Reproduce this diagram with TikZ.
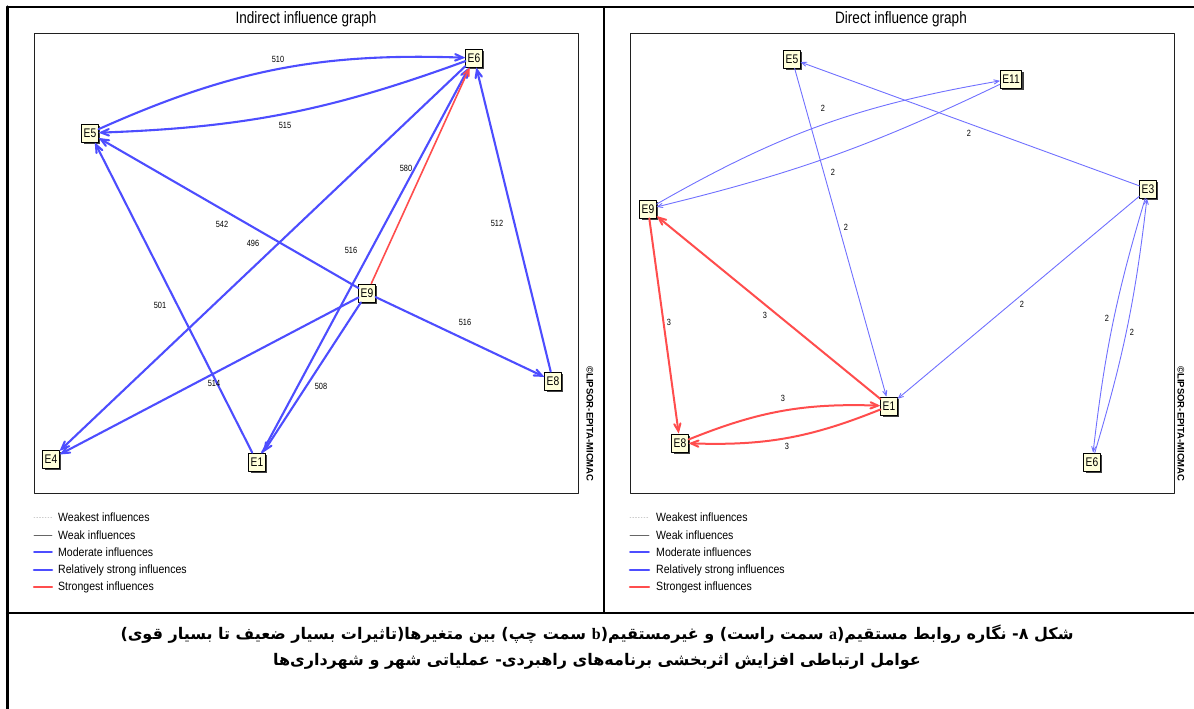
\documentclass[tikz,border=0pt]{standalone}
\usepackage{fontspec}
\setmainfont{Liberation Sans}
\newfontfamily\micfont[FakeStretch=0.82]{Liberation Sans}
\newfontfamily\legfont[FakeStretch=0.88]{Liberation Sans}
\newfontfamily\latinserif{Liberation Serif}
\newfontfamily\farsifont[Script=Arabic]{DejaVu Sans}
\TeXXeTstate=1
\usepackage{pgf,tikz}
\usetikzlibrary{arrows,shadows}
\definecolor{ududff}{rgb}{0.30196078431372547,0.30196078431372547,1.}
\definecolor{xdxdff}{rgb}{0.4392156862745098,0.4392156862745098,1.}
\definecolor{ffududd}{rgb}{1.,0.30196078431372547,0.30196078431372547}
\definecolor{ffffdb}{rgb}{1.,1.,0.8588235294117647}
\definecolor{sqsqsq}{rgb}{0.12549019607843137,0.12549019607843137,0.12549019607843137}
\definecolor{cccccc}{rgb}{0.8,0.8,0.8}
\definecolor{wvwvwv}{rgb}{0.4,0.4,0.4}

\begin{document}
\begin{tikzpicture}[line cap=round,line join=round,>=angle 45,x=1pt,y=1pt,
  var/.style={draw=black,line width=0.8pt,fill=ffffdb,inner sep=1.9pt,minimum height=18pt,
    font=\micfont\fontsize{12.5}{12.5}\selectfont,
    drop shadow={shadow xshift=2pt,shadow yshift=-2pt,fill=sqsqsq,opacity=0.85}},
  lab/.style={font=\micfont\fontsize{9}{9}\selectfont,inner sep=0pt},
  strong/.style={->,color=ududff,line width=2.1pt},
  moderate/.style={->,color=xdxdff,line width=0.9pt},
  strongest/.style={->,color=ffududd,line width=2pt},
  legtext/.style={anchor=west,font=\legfont\fontsize{12}{12}\selectfont,inner sep=0pt},
  title/.style={font=\micfont\fontsize{16.5}{16.5}\selectfont,inner sep=0pt},
  brand/.style={rotate=-90,font=\bfseries\fontsize{9.5}{9.5}\selectfont,inner sep=0pt}]
\useasboundingbox (0,0) rectangle (1194,709);
% frame
\draw [line width=1.5pt] (7,702)-- (1194,702);
\draw [line width=3pt] (7,702)-- (7,0);
\draw [line width=1.5pt] (604,702)-- (604,96);
\draw [line width=2.5pt] (7,96)-- (1194,96);
\draw [color=sqsqsq,line width=1pt] (34,675) rectangle (578,215);
\draw [color=sqsqsq,line width=1pt] (630,675) rectangle (1174,215);
\node[title] (ititle) at (306,690) {Indirect influence graph};
\node[title] (dtitle) at (901,690) {Direct influence graph};
\node[brand] (ibrand) at (590,285) {©LIPSOR-EPITA-MICMAC};
\node[brand] (dbrand) at (1181,285) {©LIPSOR-EPITA-MICMAC};
% indirect graph
\node[var] (iE6) at (474,651) {E6};
\node[var] (iE5) at (90,576) {E5};
\node[var] (iE9) at (367,416) {E9};
\node[var] (iE8) at (553,328) {E8};
\node[var] (iE4) at (51,250) {E4};
\node[var] (iE1) at (257,247) {E1};
\draw [strong] (iE5) to[bend left=13] (iE6);
\draw [strong] (iE6) to[bend left=9] (iE5);
\draw [strong] (iE1)-- (iE5);
\draw [strong] (iE9)-- (iE5);
\draw [strong] (iE6)-- (iE4);
\draw [strong] (iE9)-- (iE4);
\draw [strong] (iE1)-- (iE6);
\draw [strong] (iE9)-- (iE1);
\draw [strong] (iE8)-- (iE6);
\draw [strong] (iE9)-- (iE8);
\draw [strongest,line width=1.6pt] (iE9)-- (iE6);
\node[lab] at (278,650) {510};
\node[lab] at (285,584) {515};
\node[lab] at (406,541) {580};
\node[lab] at (222,485) {542};
\node[lab] at (253,466) {496};
\node[lab] at (351,459) {516};
\node[lab] at (497,486) {512};
\node[lab] at (160,404) {501};
\node[lab] at (465,387) {516};
\node[lab] at (214,326) {514};
\node[lab] at (321,323) {508};
% direct graph
\node[var] (dE5) at (792,650) {E5};
\node[var] (dE11) at (1011,630) {E11};
\node[var] (dE3) at (1148,520) {E3};
\node[var] (dE9) at (648,500) {E9};
\node[var] (dE1) at (889,303) {E1};
\node[var] (dE8) at (680,266) {E8};
\node[var] (dE6) at (1092,247) {E6};
\draw [moderate] (dE3)-- (dE5);
\draw [moderate] (dE5)-- (dE1);
\draw [moderate] (dE9) to[bend left=10] (dE11);
\draw [moderate] (dE11) to[bend left=6] (dE9);
\draw [moderate] (dE3)-- (dE1);
\draw [moderate] (dE3) to[bend right=5] (dE6);
\draw [moderate] (dE6) to[bend right=5] (dE3);
\draw [strongest] (dE1)-- (dE9);
\draw [strongest] (dE9)-- (dE8);
\draw [strongest] (dE8) to[bend left=12] (dE1);
\draw [strongest] (dE1) to[bend left=12] (dE8);
\node[lab] at (823,601) {2};
\node[lab] at (969,576) {2};
\node[lab] at (833,537) {2};
\node[lab] at (846,482) {2};
\node[lab] at (669,387) {3};
\node[lab] at (765,394) {3};
\node[lab] at (1022,405) {2};
\node[lab] at (1107,391) {2};
\node[lab] at (1132,377) {2};
\node[lab] at (783,311) {3};
\node[lab] at (787,263) {3};
% legends
\draw [color=cccccc,line width=0.8pt,dotted] (34,192)-- (52,192);
\draw [color=wvwvwv,line width=0.9pt] (34,174)-- (52,174);
\draw [color=ududff,line width=1.6pt] (34,157)-- (52,157);
\draw [color=ududff,line width=2.6pt] (34,139)-- (52,139);
\draw [color=ffududd,line width=2.4pt] (34,122)-- (52,122);
\node[legtext] at (58,192) {Weakest influences};
\node[legtext] at (58,174) {Weak influences};
\node[legtext] at (58,157) {Moderate influences};
\node[legtext] at (58,139) {Relatively strong influences};
\node[legtext] at (58,122) {Strongest influences};
\draw [color=cccccc,line width=0.8pt,dotted] (630,192)-- (649,192);
\draw [color=wvwvwv,line width=0.9pt] (630,174)-- (649,174);
\draw [color=ududff,line width=1.6pt] (630,157)-- (649,157);
\draw [color=ududff,line width=2.6pt] (630,139)-- (649,139);
\draw [color=ffududd,line width=2.4pt] (630,122)-- (649,122);
\node[legtext] at (656,192) {Weakest influences};
\node[legtext] at (656,174) {Weak influences};
\node[legtext] at (656,157) {Moderate influences};
\node[legtext] at (656,139) {Relatively strong influences};
\node[legtext] at (656,122) {Strongest influences};
% caption
\node[font=\farsifont\bfseries\fontsize{16}{16}\selectfont,inner sep=0pt] (cap1) at (597,75) {\beginR شکل ۸- نگاره روابط مستقیم({\latinserif\bfseries\beginL a\endL} سمت راست) و غیرمستقیم({\latinserif\bfseries\beginL b\endL} سمت چپ) بین متغیرها(تاثیرات بسیار ضعیف تا بسیار قوی)\endR};
\node[font=\farsifont\bfseries\fontsize{16}{16}\selectfont,inner sep=0pt] (cap2) at (597,48) {\beginR عوامل ارتباطی افزایش اثربخشی برنامه‌های راهبردی- عملیاتی شهر و شهرداری‌ها\endR};
\end{tikzpicture}
\end{document}
